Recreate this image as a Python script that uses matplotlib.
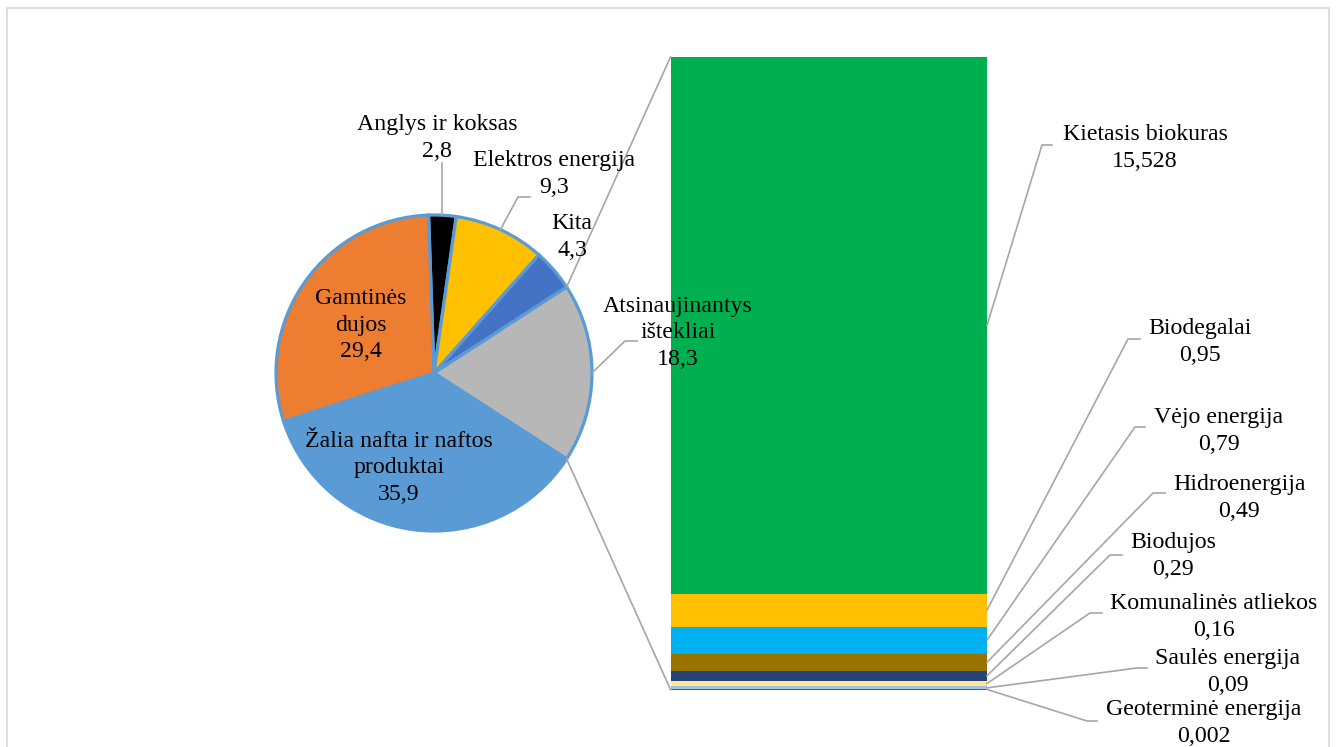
import math
import matplotlib
matplotlib.use('Agg')
import matplotlib.pyplot as plt
from matplotlib.patches import Rectangle
from matplotlib.lines import Line2D

plt.rcParams['font.family'] = ['Liberation Serif', 'DejaVu Serif']

# ---------------- data ----------------
pie_labels = ['Anglys ir koksas', 'Elektros energija', 'Kita',
              'Atsinaujinantys\ništekliai', 'Žalia nafta ir naftos\nproduktai',
              'Gamtinės\ndujos']
pie_values = [2.8, 9.3, 4.3, 18.3, 35.9, 29.4]
pie_colors = ['#000000', '#FFC000', '#4472C4', '#B7B7B7', '#5B9BD5', '#ED7D31']
split_index = 3  # slice broken out into the bar

bar_labels = ['Kietasis biokuras', 'Biodegalai', 'Vėjo energija', 'Hidroenergija',
              'Biodujos', 'Komunalinės atliekos', 'Saulės energija',
              'Geoterminė energija']
bar_values = [15.528, 0.95, 0.79, 0.49, 0.29, 0.16, 0.09, 0.002]
bar_colors = ['#00B050', '#FFC000', '#00B0F0', '#997300', '#264478',
              '#FFE699', '#9DC3E6', '#7030A0']


def fmt(v):
    return f'{v:g}'.replace('.', ',')


# ---------------- layout (pixels) ----------------
W, H = 1336, 747
FS = 17.2
LS = 1.32
LC = '#A6A6A6'
fig = plt.figure(figsize=(W / 100, H / 100), dpi=100)
fig.patch.set_facecolor('white')

# outer chart border
fig.add_artist(Rectangle((7 / W, -0.05), (1329 - 7) / W, 1.05 - 8 / H,
                         transform=fig.transFigure, fill=False,
                         edgecolor='#D9D9D9', linewidth=1.2))

cx, cy, R = 434, 373, 158
ax_pie = fig.add_axes([(cx - R) / W, 1 - (cy + R) / H, 2 * R / W, 2 * R / H])
total = sum(pie_values)
start = 360 * (sum(pie_values[:split_index]) + pie_values[split_index] / 2) / total
wedges, _ = ax_pie.pie(pie_values, colors=pie_colors, startangle=start,
                       counterclock=False, radius=1,
                       wedgeprops=dict(edgecolor='#5B9BD5', linewidth=2.3))
ax_pie.set_xlim(-1, 1)
ax_pie.set_ylim(-1, 1)
ax_pie.axis('off')

bx0, bx1, by0, by1 = 670.5, 987, 57, 689.5
ax_bar = fig.add_axes([bx0 / W, 1 - by1 / H, (bx1 - bx0) / W, (by1 - by0) / H])
bottom = 0.0
mids = [0] * len(bar_values)
for i in range(len(bar_values) - 1, -1, -1):
    v = bar_values[i]
    ax_bar.bar(0, v, bottom=bottom, width=1, color=bar_colors[i],
               edgecolor=bar_colors[i], linewidth=0.6 if v < 0.01 else 0)
    mids[i] = bottom + v / 2
    bottom += v
ax_bar.set_xlim(-0.5, 0.5)
ax_bar.set_ylim(0, bottom)
ax_bar.axis('off')

ov = fig.add_axes([0, 0, 1, 1])
ov.set_xlim(0, W)
ov.set_ylim(H, 0)
ov.axis('off')
ov.patch.set_alpha(0)


def to_px(ax, x, y):
    d = ax.transData.transform((x, y))
    return d[0], H - d[1]


def wedge_pt(ang):
    return to_px(ax_pie, math.cos(math.radians(ang)), math.sin(math.radians(ang)))


# connector lines pie -> bar
gw = wedges[split_index]
p_top = wedge_pt(gw.theta2)
p_bot = wedge_pt(gw.theta1)
b_top = to_px(ax_bar, -0.5, bottom)
b_bot = to_px(ax_bar, -0.5, 0)
ov.add_line(Line2D([p_top[0], b_top[0]], [p_top[1], b_top[1]], color=LC, lw=1.2))
ov.add_line(Line2D([p_bot[0], b_bot[0]], [p_bot[1], b_bot[1]], color=LC, lw=1.2))

# pie labels: (text centre x, y, leader points or None)
pie_layout = [
    (437, 138, [(443, 163)]),
    (554, 174, [(518, 197), (530, 197)]),
    (572, 237, None),
    (678, 333, [(625, 341), (637, 341)]),
    (399, 468, None),
    (361, 325, None),
]
for w, lab, val, (tx, ty, lead) in zip(wedges, pie_labels, pie_values, pie_layout):
    ov.text(tx, ty, f'{lab}\n{fmt(val)}', ha='center', va='center',
            fontsize=FS, linespacing=LS, color='black', zorder=5)
    if lead:
        mid = (w.theta1 + w.theta2) / 2
        p0 = wedge_pt(mid)
        xs = [p0[0]] + [p[0] for p in lead]
        ys = [p0[1]] + [p[1] for p in lead]
        if len(lead) == 1:
            xs[1] = p0[0]
        ov.add_line(Line2D(xs, ys, color=LC, lw=1.2))

# bar labels
bar_layout = [
    (1145, 148, (1042, 145), (1052, 145)),
    (1200, 342, (1128, 339), (1140, 339)),
    (1219, 431, (1135, 427), (1145, 427)),
    (1239, 498, (1153, 493), (1165, 493)),
    (1173, 556, (1110, 555), (1122, 555)),
    (1214, 617, (1090, 613), (1102, 613)),
    (1228, 672, (1137, 668), (1147, 668)),
    (1204, 723, (1087, 721), (1097, 721)),
]
for lab, val, m, (tx, ty, e1, e2) in zip(bar_labels, bar_values, mids, bar_layout):
    ov.text(tx, ty, f'{lab}\n{fmt(val)}', ha='center', va='center',
            fontsize=FS, linespacing=LS, color='black', zorder=5)
    p0 = to_px(ax_bar, 0.5, m)
    ov.add_line(Line2D([p0[0], e1[0], e2[0]], [p0[1], e1[1], e2[1]], color=LC, lw=1.2))

fig.savefig('out.png', dpi=100)
